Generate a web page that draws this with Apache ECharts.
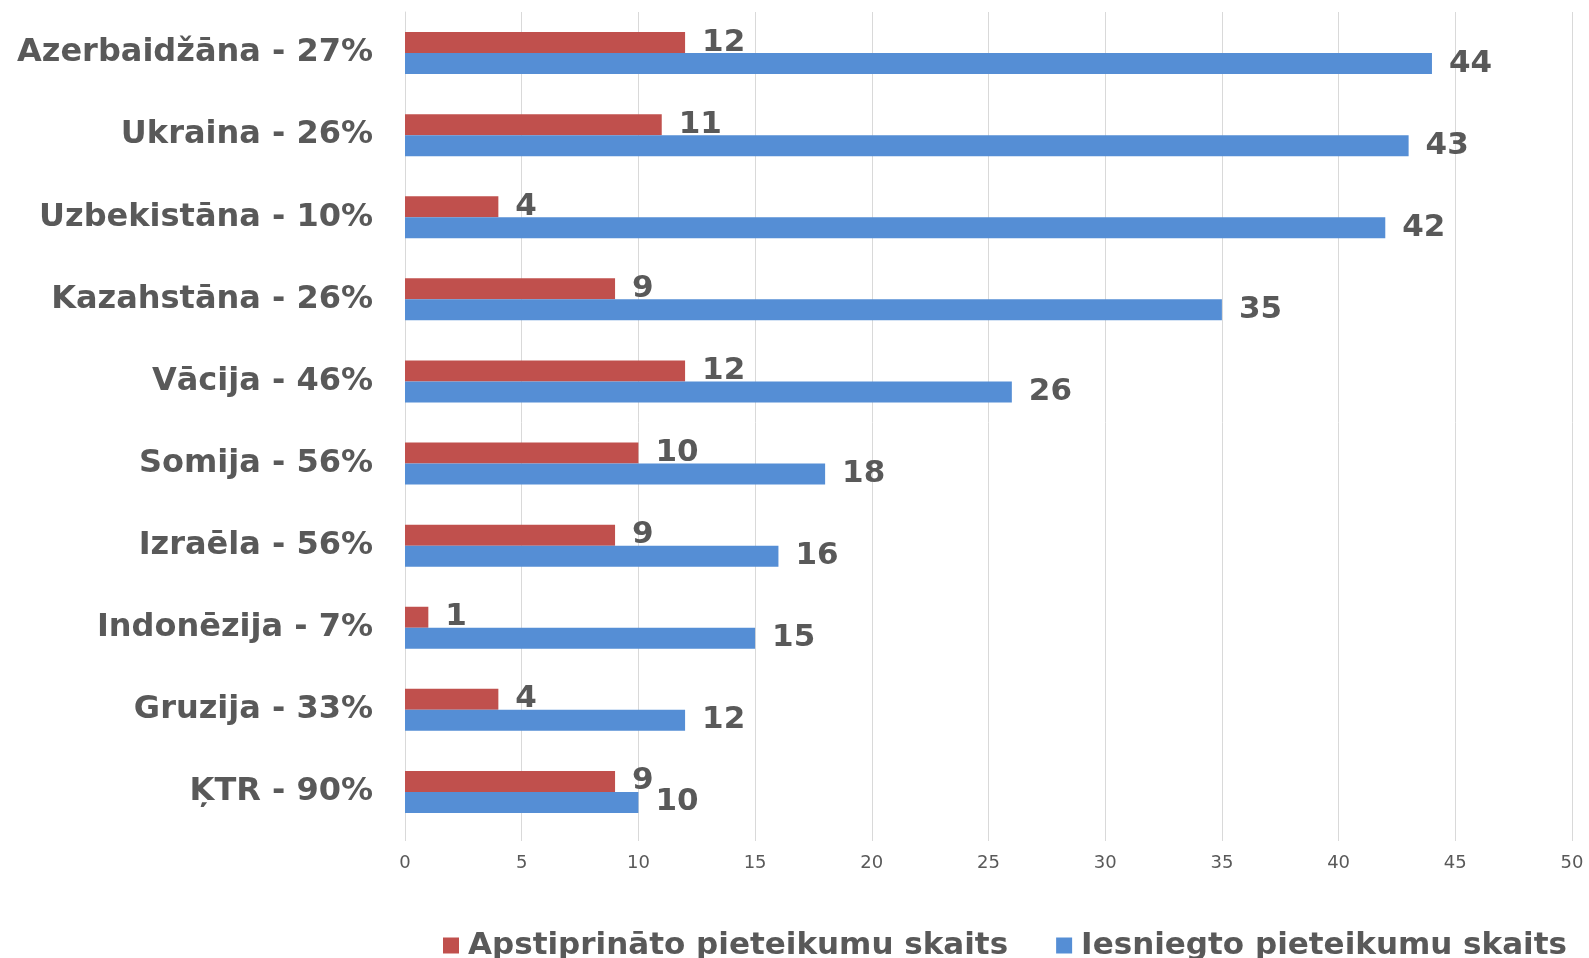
<!DOCTYPE html>
<html>
<head>
<meta charset="utf-8">
<script src="https://cdn.jsdelivr.net/npm/echarts@6/dist/echarts.min.js"></script>
<style>
  html, body { margin: 0; padding: 0; background: #fff; }
  #chart { width: 1589px; height: 958px; }
</style>
</head>
<body>
<div id="chart"></div>
<script>
// kategorijas no augšas uz leju
const countries = [
  'Azerbaidžāna - 27%', 'Ukraina - 26%', 'Uzbekistāna - 10%', 'Kazahstāna - 26%',
  'Vācija - 46%', 'Somija - 56%', 'Izraēla - 56%', 'Indonēzija - 7%',
  'Gruzija - 33%', 'ĶTR - 90%'
]
const approved = [12, 11, 4, 9, 12, 10, 9, 1, 4, 9]
const submitted = [44, 43, 42, 35, 26, 18, 16, 15, 12, 10]
const xTicks = [0, 5, 10, 15, 20, 25, 30, 35, 40, 45, 50]

const textColor = '#595959'
const gridColor = '#d9d9d9'
const font = 'DejaVu Sans'

const chart = echarts.init(document.getElementById('chart'))

const valueLabel = {
  show: true,
  position: 'right',
  distance: 17,
  color: textColor,
  fontFamily: font,
  fontWeight: 'bold',
  fontSize: 31
}

chart.setOption({
  animation: false,
  backgroundColor: '#fff',
  textStyle: { fontFamily: font },
  grid: { left: 405, right: 17, top: 12, bottom: 125 },
  legend: {
    left: 438,
    top: 925,
    width: 1151,
    itemWidth: 16,
    itemHeight: 16,
    itemGap: 48,
    icon: 'rect',
    textStyle: { color: textColor, fontFamily: font, fontWeight: 'bold', fontSize: 31, padding: [0, 0, 0, 4] },
    data: ['Apstiprināto pieteikumu skaits', 'Iesniegto pieteikumu skaits']
  },
  xAxis: {
    type: 'value',
    min: xTicks[0],
    max: xTicks[xTicks.length - 1],
    interval: 5,
    axisLine: { show: false },
    axisTick: { show: true, length: 8, lineStyle: { color: gridColor } },
    splitLine: { lineStyle: { color: gridColor, width: 1 } },
    axisLabel: { color: textColor, fontFamily: font, fontSize: 18, margin: 21 }
  },
  yAxis: {
    type: 'category',
    inverse: true,
    data: countries,
    axisLine: { show: true, lineStyle: { color: gridColor } },
    axisTick: { show: false },
    axisLabel: { color: textColor, fontFamily: font, fontWeight: 'bold', fontSize: 32, margin: 32 }
  },
  series: [
    {
      name: 'Apstiprināto pieteikumu skaits',
      type: 'bar',
      data: approved,
      barWidth: 21,
      barGap: '0%',
      itemStyle: { color: '#c0504d' },
      label: valueLabel
    },
    {
      name: 'Iesniegto pieteikumu skaits',
      type: 'bar',
      data: submitted,
      barWidth: 21,
      itemStyle: { color: '#558ed5' },
      label: valueLabel
    }
  ]
})

window.addEventListener('resize', () => chart.resize())
</script>
</body>
</html>
